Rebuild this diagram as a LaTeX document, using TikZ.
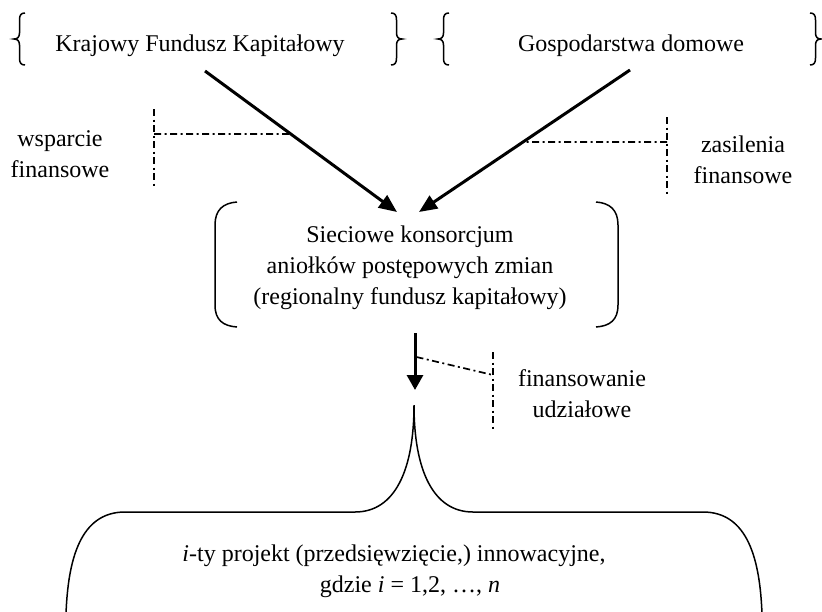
\documentclass[tikz,border=0pt]{standalone}
\usepackage{fontspec}
\setmainfont{Liberation Serif}
\usetikzlibrary{arrows.meta}
\tikzset{
  lbl/.style={inner sep=0pt, font=\fontsize{24}{31}\selectfont, align=center},
  bigarrow/.style={line width=3pt, -{Triangle[length=18pt,width=15pt]}},
  downarrow/.style={line width=3pt, -{Triangle[length=15pt,width=16pt]}},
  dashdot/.style={line width=1.7pt, dash pattern=on 7pt off 3.5pt on 2pt off 3.5pt},
  bracket/.style={line width=1.5pt},
  lbrace/.pic={\draw[bracket] (11,-26) .. controls (7,-26) and (5.5,-24) .. (5.5,-19) -- (5.5,-6) .. controls (5.5,-2) and (3.5,0) .. (0,0) .. controls (3.5,0) and (5.5,2) .. (5.5,6) -- (5.5,19) .. controls (5.5,24) and (7,26) .. (11,26);},
  rbrace/.pic={\draw[bracket] (-11,-26) .. controls (-7,-26) and (-5.5,-24) .. (-5.5,-19) -- (-5.5,-6) .. controls (-5.5,-2) and (-3.5,0) .. (0,0) .. controls (-3.5,0) and (-5.5,2) .. (-5.5,6) -- (-5.5,19) .. controls (-5.5,24) and (-7,26) .. (-11,26);}
}
\begin{document}
\begin{tikzpicture}[x=1pt,y=-1pt]
\useasboundingbox (0,0) rectangle (822,611);
\clip (0,0) rectangle (822,611);
% top labels
\node[lbl, anchor=base] (kfk) at (200,51) {Krajowy Fundusz Kapitałowy};
\node[lbl, anchor=base] (gd) at (631,51) {Gospodarstwa domowe};
\pic at (14,39) {lbrace};
\pic at (402,39) {rbrace};
\pic at (438,39) {lbrace};
\pic at (821,39) {rbrace};
% side labels (anchor at baseline of last line)
\node[lbl, anchor=base] (ws) at (60,177) {wsparcie\\finansowe};
\node[lbl, anchor=base] (zf) at (743,183) {zasilenia\\finansowe};
% middle
\node[lbl, anchor=base] (sk) at (410,304) {Sieciowe konsorcjum\\aniołków postępowych zmian\\(regionalny fundusz kapitałowy)};
\draw[bracket] (237,202) .. controls (223,203) and (215,210) .. (215,225) -- (215,305) .. controls (215,320) and (223,326) .. (237,327);
\draw[bracket] (596,202) .. controls (610,203) and (618,210) .. (618,225) -- (618,305) .. controls (618,320) and (610,326) .. (596,327);
\node[lbl, anchor=base] (fu) at (582,417) {finansowanie\\udziałowe};
% bottom
\node[lbl, anchor=base] (pr1) at (394,561) {\textit{i}-ty projekt (przedsięwzięcie,) innowacyjne,};
\node[lbl, anchor=base] (pr2) at (410,592) {gdzie \textit{i} = 1,2, …, \textit{n}};
\draw[bracket] (66,614) .. controls (68,560) and (80,512) .. (125,512) -- (355,512) .. controls (395,512) and (414,470) .. (414,405) .. controls (414,470) and (433,512) .. (473,512) -- (703,512) .. controls (748,512) and (760,560) .. (762,614);
% arrows
\coordinate (a1s) at (205,71);
\coordinate (a1e) at (397,212);
\coordinate (a2s) at (630,70);
\coordinate (a2e) at (419,212);
\draw[bigarrow] (a1s) -- (a1e);
\draw[bigarrow] (a2s) -- (a2e);
\coordinate (ds) at (415,333);
\coordinate (de) at (415,390);
\draw[downarrow] (ds) -- (de);
% dash-dot markers
\coordinate (wt) at (154,109);
\coordinate (wb) at (154,187);
\coordinate (wm) at (154,134);
\coordinate (wh) at (320,134);
\coordinate (wx) at (intersection of wm--wh and a1s--a1e);
\draw[dashdot] (wt) -- (wb);
\draw[dashdot] (wm) -- (wx);
\coordinate (zt) at (667,117);
\coordinate (zb) at (667,195);
\coordinate (zm) at (667,142);
\coordinate (zh) at (480,142);
\coordinate (zx) at (intersection of zm--zh and a2s--a2e);
\draw[dashdot] (zt) -- (zb);
\draw[dashdot] (zm) -- (zx);
\coordinate (fx) at (416.5,357);
\coordinate (ft) at (493,352);
\coordinate (fb) at (493,429);
\coordinate (fm) at (493,375);
\draw[dashdot] (ft) -- (fb);
\draw[dashdot] (fx) -- (fm);
\end{tikzpicture}
\end{document}
